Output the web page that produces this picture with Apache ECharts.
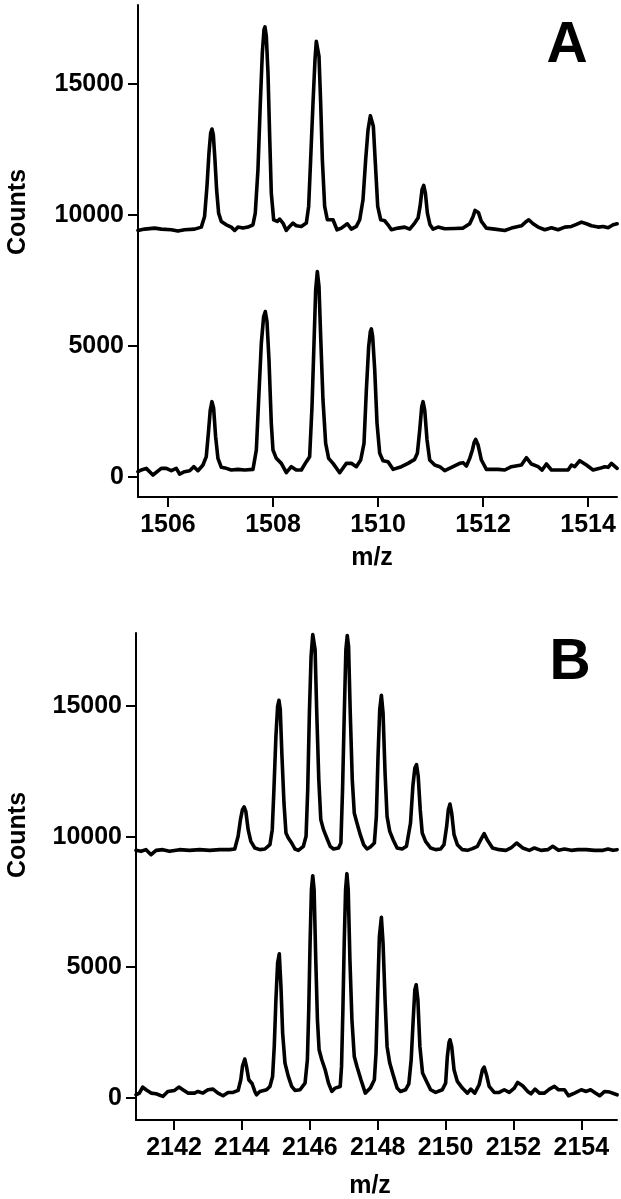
<!DOCTYPE html>
<html>
<head>
<meta charset="utf-8">
<script src="https://cdn.jsdelivr.net/npm/echarts@6/dist/echarts.min.js"></script>
<style>
  html, body { margin: 0; padding: 0; background: #fff; }
  #chart { width: 621px; height: 1199px; }
</style>
</head>
<body>
<div id="chart"></div>
<script>
// Tick values
const mzTicksA = [1506, 1508, 1510, 1512, 1514];
const mzTicksB = [2142, 2144, 2146, 2148, 2150, 2152, 2154];
const countTicks = [0, 5000, 10000, 15000];

// Panel A, upper trace [m/z, counts]
const specAUpper = [
[1505.429,9404],[1505.556,9455],[1505.746,9493],[1505.873,9455],[1506.064,9429],[1506.19,9379],[1506.317,9429],[1506.508,9455],[1506.635,9531],
[1506.698,9938],[1506.743,11083],[1506.781,12355],[1506.813,13118],[1506.838,13271],[1506.864,13055],[1506.895,12101],[1506.927,10956],[1506.965,10065],[1507.016,9747],[1507.111,9620],[1507.206,9531],[1507.27,9404],[1507.333,9531],[1507.429,9493],[1507.524,9531],[1507.619,9620],
[1507.663,10065],[1507.714,11719],[1507.759,14263],[1507.797,16171],[1507.829,17061],[1507.848,17163],[1507.873,16807],[1507.905,15408],[1507.937,12991],[1507.968,10829],[1508.013,9811],[1508.083,9747],[1508.127,9837],[1508.19,9684],[1508.254,9404],[1508.317,9557],[1508.381,9684],[1508.444,9582],[1508.54,9557],[1508.635,9684],
[1508.679,10320],[1508.717,12101],[1508.762,14263],[1508.8,15917],[1508.825,16616],[1508.851,16680],[1508.876,16044],[1508.908,14263],[1508.94,12101],[1508.984,10320],[1509.035,9811],[1509.143,9811],[1509.219,9429],[1509.302,9493],[1509.416,9658],[1509.492,9455],[1509.587,9557],[1509.651,9811],
[1509.714,10574],[1509.765,12101],[1509.81,13245],[1509.854,13780],[1509.879,13818],[1509.911,13373],[1509.949,11973],[1509.994,10320],[1510.051,9811],[1510.127,9773],[1510.19,9620],[1510.254,9429],[1510.381,9493],[1510.508,9531],[1510.603,9455],[1510.698,9684],[1510.762,9875],
[1510.8,10320],[1510.838,10956],[1510.87,11121],[1510.902,10829],[1510.94,10065],[1510.99,9620],[1511.048,9455],[1511.143,9531],[1511.27,9468],[1511.46,9480],[1511.619,9493],[1511.746,9658],
[1511.81,9938],[1511.848,10167],[1511.879,10218],[1511.911,10091],[1511.968,9747],[1512.063,9493],[1512.222,9455],[1512.413,9404],[1512.54,9493],[1512.73,9582],
[1512.825,9747],[1512.87,9811],[1512.952,9658],[1513.048,9531],[1513.175,9429],[1513.302,9506],[1513.429,9429],[1513.556,9531],[1513.683,9557],[1513.778,9633],[1513.873,9722],[1513.968,9658],[1514.063,9582],[1514.19,9531],[1514.286,9557],[1514.381,9506],[1514.476,9620],[1514.552,9658]
];

// Panel A, lower trace [m/z, counts]
const specALower = [
[1505.429,205],[1505.492,269],[1505.587,332],[1505.714,78],[1505.873,332],[1505.968,332],[1506.064,243],[1506.159,332],[1506.222,116],[1506.317,205],[1506.413,243],[1506.495,396],[1506.571,243],[1506.667,460],
[1506.73,778],[1506.775,1795],[1506.806,2558],[1506.838,2876],[1506.87,2622],[1506.908,1541],[1506.952,714],[1507.016,371],[1507.111,332],[1507.206,269],[1507.333,294],[1507.46,269],[1507.619,294],
[1507.683,1032],[1507.727,2940],[1507.778,5102],[1507.822,6120],[1507.854,6311],[1507.886,5929],[1507.924,4466],[1507.968,2050],[1508.0,1032],[1508.063,714],[1508.159,523],[1508.254,167],[1508.349,396],[1508.444,269],[1508.54,269],[1508.635,587],
[1508.698,778],[1508.743,2686],[1508.781,5102],[1508.813,7138],[1508.844,7837],[1508.876,7265],[1508.908,5357],[1508.952,2940],[1509.003,1286],[1509.06,714],[1509.143,523],[1509.27,167],[1509.397,523],[1509.492,523],[1509.587,396],[1509.67,650],
[1509.733,1286],[1509.778,3322],[1509.822,4975],[1509.854,5548],[1509.873,5649],[1509.898,5357],[1509.937,4085],[1509.981,2050],[1510.032,905],[1510.095,625],[1510.19,587],[1510.286,294],[1510.444,396],[1510.571,523],[1510.698,676],[1510.749,905],
[1510.794,1795],[1510.832,2686],[1510.857,2876],[1510.889,2558],[1510.933,1414],[1510.984,650],[1511.079,460],[1511.175,396],[1511.27,243],[1511.429,396],[1511.556,523],[1511.619,549],[1511.683,421],[1511.746,714],
[1511.797,1032],[1511.829,1312],[1511.86,1439],[1511.905,1223],[1511.968,650],[1512.063,294],[1512.286,294],[1512.413,269],[1512.54,396],[1512.73,460],
[1512.825,739],[1512.921,498],[1513.048,396],[1513.124,269],[1513.206,498],[1513.302,269],[1513.492,269],[1513.619,269],[1513.683,460],[1513.746,396],[1513.841,625],[1513.968,460],[1514.095,269],[1514.222,332],[1514.317,396],[1514.381,371],[1514.444,523],[1514.552,332]
];

// Panel B, upper trace [m/z, counts]
const specBUpper = [
[2140.88,9477],[2141.028,9439],[2141.176,9503],[2141.324,9311],[2141.472,9477],[2141.669,9503],[2141.866,9439],[2142.162,9503],[2142.458,9477],[2142.754,9503],[2143.05,9477],[2143.345,9503],[2143.641,9503],[2143.789,9528],
[2143.888,10014],[2143.957,10652],[2144.016,11035],[2144.065,11137],[2144.115,10971],[2144.184,10269],[2144.263,9822],[2144.381,9567],[2144.529,9503],[2144.677,9528],[2144.825,9694],
[2144.894,10269],[2144.943,11802],[2145.002,13845],[2145.052,14994],[2145.091,15224],[2145.13,14866],[2145.18,13079],[2145.239,11291],[2145.298,10141],[2145.367,9950],[2145.466,9758],[2145.564,9528],[2145.663,9477],[2145.811,9631],[2145.89,10014],
[2145.939,11802],[2145.988,14739],[2146.038,16909],[2146.087,17739],[2146.117,17790],[2146.156,17165],[2146.205,14739],[2146.265,12185],[2146.324,10652],[2146.403,10269],[2146.501,9950],[2146.6,9631],[2146.699,9528],[2146.846,9567],[2146.916,9758],
[2146.965,11802],[2147.014,14611],[2147.063,17165],[2147.103,17701],[2147.142,17293],[2147.192,14739],[2147.251,12185],[2147.31,10907],[2147.389,10524],[2147.487,10078],[2147.586,9694],[2147.685,9528],[2147.783,9605],[2147.902,9758],
[2147.961,10780],[2148.01,13079],[2148.06,14866],[2148.109,15415],[2148.158,14739],[2148.217,12440],[2148.276,10780],[2148.355,10205],[2148.454,9886],[2148.572,9567],[2148.72,9528],[2148.848,9631],
[2148.967,10524],[2149.036,11929],[2149.095,12631],[2149.144,12759],[2149.194,12312],[2149.253,11035],[2149.312,10141],[2149.411,9822],[2149.559,9567],[2149.706,9503],[2149.854,9528],[2149.953,9694],
[2150.032,10397],[2150.081,11035],[2150.13,11252],[2150.18,10907],[2150.249,10078],[2150.347,9694],[2150.495,9503],[2150.643,9477],[2150.791,9541],[2150.939,9631],
[2151.038,9886],[2151.136,10116],[2151.235,9860],[2151.383,9567],[2151.58,9503],[2151.777,9477],[2151.925,9567],
[2152.093,9758],[2152.271,9567],[2152.468,9477],[2152.616,9567],[2152.813,9477],[2153.01,9503],[2153.158,9631],[2153.326,9477],[2153.503,9528],[2153.701,9477],[2153.898,9503],[2154.144,9503],[2154.391,9477],[2154.637,9477],[2154.785,9528],[2154.933,9477],[2155.052,9503]
];

// Panel B, lower trace [m/z, counts]
const specBLower = [
[2140.88,116],[2140.979,180],[2141.077,410],[2141.176,308],[2141.324,180],[2141.472,155],[2141.669,53],[2141.817,244],[2142.014,282],[2142.142,410],[2142.261,308],[2142.409,180],[2142.606,180],[2142.704,244],[2142.852,180],[2143.0,308],[2143.148,333],[2143.296,180],[2143.444,78],[2143.592,206],[2143.74,206],[2143.888,282],
[2143.967,691],[2144.016,1202],[2144.085,1483],[2144.134,1202],[2144.203,691],[2144.302,538],[2144.381,244],[2144.43,116],[2144.529,244],[2144.726,308],[2144.825,435],
[2144.904,819],[2144.953,1968],[2145.002,3756],[2145.052,5160],[2145.101,5518],[2145.15,4266],[2145.2,2478],[2145.269,1329],[2145.367,819],[2145.466,435],[2145.564,282],[2145.712,308],[2145.86,563],
[2145.929,1457],[2145.969,3373],[2146.008,5927],[2146.048,7970],[2146.087,8506],[2146.127,7970],[2146.176,5288],[2146.225,2989],[2146.274,1840],[2146.353,1457],[2146.452,1074],[2146.551,563],[2146.649,244],[2146.748,372],[2146.896,435],
[2146.935,1202],[2146.975,3373],[2147.014,5927],[2147.054,7970],[2147.093,8583],[2147.132,7970],[2147.182,5288],[2147.241,2989],[2147.31,1585],[2147.389,1202],[2147.507,691],[2147.635,180],[2147.783,372],[2147.902,691],
[2147.951,1712],[2148.0,4011],[2148.05,6182],[2148.109,6910],[2148.158,5927],[2148.217,3756],[2148.276,1968],[2148.355,1329],[2148.454,883],[2148.572,372],[2148.671,244],[2148.819,308],[2148.917,538],
[2148.987,1457],[2149.046,2989],[2149.095,4139],[2149.134,4330],[2149.184,3756],[2149.243,1968],[2149.322,947],[2149.44,627],[2149.559,308],[2149.706,206],[2149.904,308],[2150.002,563],
[2150.052,1585],[2150.101,2121],[2150.13,2223],[2150.18,1968],[2150.249,1074],[2150.347,627],[2150.495,372],[2150.643,180],[2150.742,333],[2150.86,180],[2150.988,499],
[2151.087,1074],[2151.136,1176],[2151.205,883],[2151.284,435],[2151.432,206],[2151.58,206],[2151.728,308],[2151.876,206],[2152.024,372],
[2152.123,589],[2152.271,461],[2152.418,244],[2152.517,155],[2152.635,333],[2152.764,180],[2152.912,180],[2153.059,333],[2153.207,435],[2153.326,308],[2153.503,308],[2153.622,78],[2153.799,180],[2153.996,308],[2154.144,244],[2154.272,308],[2154.391,206],[2154.539,78],[2154.687,244],[2154.835,219],[2155.052,116]
];

const FONT = '"Liberation Sans", Arial, Helvetica, sans-serif';
const tickFont = { color: '#000', fontSize: 25, fontWeight: 'bold', fontFamily: FONT };

function xAxisCfg(grid, min, max, ticks) {
  return {
    type: 'value', gridIndex: grid, min: min, max: max,
    axisLine: { show: true, onZero: false, lineStyle: { color: '#000', width: 2 } },
    axisTick: { show: true, customValues: ticks, length: 10, inside: false, lineStyle: { color: '#000', width: 2 } },
    axisLabel: Object.assign({ customValues: ticks, margin: 16, formatter: v => String(v) }, tickFont),
    splitLine: { show: false }
  };
}
function yAxisCfg(grid, min, max) {
  return {
    type: 'value', gridIndex: grid, min: min, max: max,
    axisLine: { show: true, onZero: false, lineStyle: { color: '#000', width: 2 } },
    axisTick: { show: true, customValues: countTicks, length: 10, inside: false, lineStyle: { color: '#000', width: 2 } },
    axisLabel: Object.assign({ customValues: countTicks, margin: 14, formatter: v => String(v) }, tickFont),
    splitLine: { show: false }
  };
}
function trace(data, idx) {
  return {
    type: 'line', xAxisIndex: idx, yAxisIndex: idx, data: data,
    showSymbol: false, symbol: 'none', silent: true,
    lineStyle: { color: '#000', width: 3.6, join: 'round', cap: 'round' },
    clip: true
  };
}

const chart = echarts.init(document.getElementById('chart'), null, { renderer: 'canvas' });
chart.setOption({
  animation: false,
  backgroundColor: '#fff',
  grid: [
    { left: 138, top: 5, width: 479, height: 492 },
    { left: 136, top: 633, width: 481, height: 487 }
  ],
  xAxis: [
    xAxisCfg(0, 1505.43, 1514.55, mzTicksA),
    xAxisCfg(1, 2140.88, 2155.05, mzTicksB)
  ],
  yAxis: [
    yAxisCfg(0, -760, 18000),
    yAxisCfg(1, -850, 17800)
  ],
  series: [
    trace(specAUpper, 0),
    trace(specALower, 0),
    trace(specBUpper, 1),
    trace(specBLower, 1)
  ],
  graphic: [
    { type: 'text', x: 567, y: 46, style: { text: 'A', font: 'bold 57px ' + FONT, fill: '#000', textAlign: 'center', textVerticalAlign: 'middle' } },
    { type: 'text', x: 570, y: 663, style: { text: 'B', font: 'bold 57px ' + FONT, fill: '#000', textAlign: 'center', textVerticalAlign: 'middle' } },
    { type: 'text', x: 18, y: 212, rotation: Math.PI / 2, style: { text: 'Counts', font: 'bold 25px ' + FONT, fill: '#000', textAlign: 'center', textVerticalAlign: 'middle' } },
    { type: 'text', x: 18, y: 835, rotation: Math.PI / 2, style: { text: 'Counts', font: 'bold 25px ' + FONT, fill: '#000', textAlign: 'center', textVerticalAlign: 'middle' } },
    { type: 'text', x: 372, y: 558, style: { text: 'm/z', font: 'bold 25px ' + FONT, fill: '#000', textAlign: 'center', textVerticalAlign: 'middle' } },
    { type: 'text', x: 370, y: 1186, style: { text: 'm/z', font: 'bold 25px ' + FONT, fill: '#000', textAlign: 'center', textVerticalAlign: 'middle' } }
  ]
});
</script>
</body>
</html>
